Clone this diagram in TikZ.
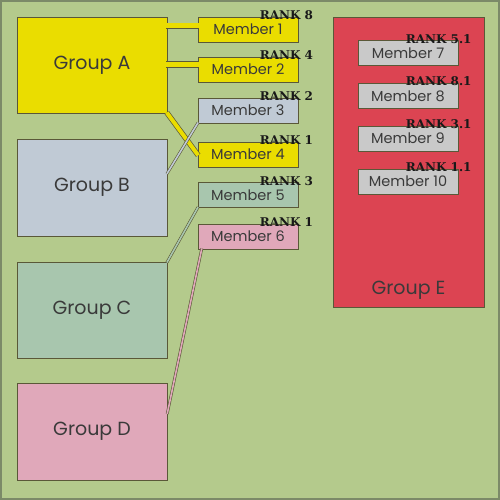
\documentclass[tikz,border=0pt]{standalone}
\usepackage{fontspec}
\setmainfont{Poppins}
\newfontfamily\rankfont{DejaVu Serif}
\usetikzlibrary{positioning}

\definecolor{bgGreen}{HTML}{B4CA8C}
\definecolor{frameDark}{HTML}{7C8A68}
\definecolor{edgeDark}{HTML}{5A5838}
\definecolor{textDark}{HTML}{3A3A3A}
\definecolor{yellowA}{HTML}{EADD00}
\definecolor{grayB}{HTML}{C0CAD5}
\definecolor{sageC}{HTML}{A8C6AE}
\definecolor{pinkD}{HTML}{E0A8BA}
\definecolor{redE}{HTML}{DC4452}
\definecolor{grayM}{HTML}{C9C9C9}

\tikzset{
  group/.style={draw=edgeDark, line width=0.8pt, minimum width=150pt, minimum height=96pt,
    inner sep=0pt, text=textDark, font=\fontsize{19}{19}\selectfont},
  member/.style={draw=edgeDark, line width=0.8pt, minimum width=100pt, minimum height=25pt,
    inner sep=0pt, text=textDark, font=\fontsize{14.5}{14.5}\selectfont},
  rank/.style={anchor=base west, inner sep=0pt, text=black!90,
    font=\rankfont\bfseries\fontsize{12}{12}\selectfont},
  link/.style={draw=edgeDark, line width=0.7pt, double=#1, shorten <=-1pt, shorten >=-1pt}
}

\begin{document}
\begin{tikzpicture}[x=1pt,y=-1pt]
  % backdrop
  \fill[bgGreen] (0,0) rectangle (500,500);
  \draw[frameDark, line width=2pt] (1,1) rectangle (499,499);

  % groups
  \node[group, fill=yellowA] (g_A) at (92,65) {Group A};
  \node[group, fill=grayB, minimum height=97pt] (g_B) at (92,187.5) {Group B};
  \node[group, fill=sageC] (g_C) at (92,310) {Group C};
  \node[group, fill=pinkD, minimum height=97pt] (g_D) at (92,431.5) {Group D};
  \node[group, fill=redE, minimum width=151pt, minimum height=290pt] (g_E) at (408.5,162) {};
  \node[text=textDark, font=\fontsize{19}{19}\selectfont] (t_E) at ([yshift=17pt]g_E.south) {Group E};

  % members
  \node[member, fill=yellowA] (m_1) at (248,29.5) {Member 1};
  \node[member, fill=yellowA] (m_2) at (248,69.5) {Member 2};
  \node[member, fill=grayB] (m_3) at (248,110.5) {Member 3};
  \node[member, fill=yellowA] (m_4) at (248,154.5) {Member 4};
  \node[member, fill=sageC] (m_5) at (248,195) {Member 5};
  \node[member, fill=pinkD] (m_6) at (248,236.5) {Member 6};

  \node[member, fill=grayM] (m_7) at (408,53) {Member 7};
  \node[member, fill=grayM] [below=17pt of m_7] (m_8) {Member 8};
  \node[member, fill=grayM] [below=17pt of m_8] (m_9) {Member 9};
  \node[member, fill=grayM] [below=17pt of m_9] (m_10) {Member 10};

  % connectors
  \coordinate (a_1) at ([yshift=3.5pt]m_1.west);
  \coordinate (a_2) at ([yshift=5pt]m_2.west);
  \coordinate (b_3) at ([yshift=14.5pt]g_B.east);
  \coordinate (d_6) at ([yshift=18.5pt]g_D.east);
  \coordinate (m_6s) at ([xshift=4pt]m_6.south west);
  \draw[link=yellowA, double distance=5pt] (g_A.east |- a_1) -- (a_1);
  \draw[link=yellowA, double distance=5pt] (g_A.east |- a_2) -- (a_2);
  \draw[link=yellowA, double distance=4pt] (g_A.south east) -- (m_4.west);
  \draw[link=grayB, double distance=1.6pt, line width=0.6pt] (b_3) -- (m_3.south west);
  \draw[link=sageC, double distance=1.6pt, line width=0.6pt] (g_C.north east) -- (m_5.south west);
  \draw[link=pinkD, double distance=1.6pt, line width=0.6pt] (d_6) -- (m_6s);

  % ranks
  \foreach \m/\r in {1/8, 2/4, 3/2, 4/1, 5/3, 6/1}
    \node[rank] (r_\m) at ([xshift=62pt,yshift=-3pt]m_\m.north west) {RANK \r};
  \foreach \m/\r in {7/5.1, 8/8.1, 9/3.1, 10/1.1}
    \node[rank] (r_\m) at ([xshift=48pt,yshift=-3pt]m_\m.north west) {RANK \r};
\end{tikzpicture}
\end{document}
